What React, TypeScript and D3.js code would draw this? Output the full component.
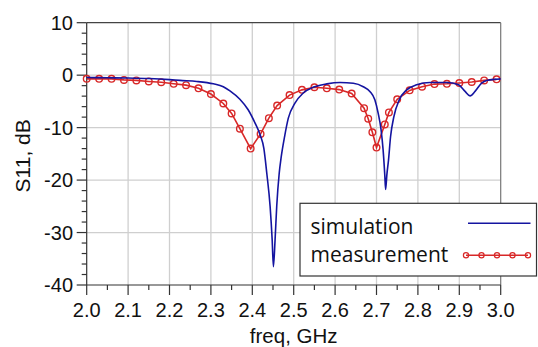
import React from "react";
import * as d3 from "d3";

const simFreq = [2.0, 2.05, 2.1, 2.15, 2.2, 2.225, 2.266, 2.306, 2.33, 2.346, 2.37, 2.39, 2.407, 2.419, 2.428, 2.435, 2.443, 2.448, 2.451, 2.455, 2.459, 2.465, 2.47, 2.478, 2.487, 2.503, 2.523, 2.547, 2.58, 2.612, 2.644, 2.668, 2.684, 2.696, 2.704, 2.711, 2.716, 2.72, 2.722, 2.725, 2.729, 2.734, 2.742, 2.755, 2.773, 2.797, 2.829, 2.87, 2.898, 2.914, 2.926, 2.938, 2.954, 2.966, 2.99, 3.0];
const simDb = [-0.45, -0.5, -0.55, -0.65, -0.85, -1.0, -1.2, -1.65, -2.2, -3.0, -4.6, -6.6, -9.2, -11.4, -14.0, -18.7, -25, -31.4, -36.5, -31.4, -25, -18.7, -15.5, -11.7, -8.2, -5.35, -3.4, -2.3, -1.66, -1.4, -1.55, -2.2, -3.1, -4.7, -7.25, -10.4, -14.3, -19, -21.8, -19, -16.2, -11.7, -7.9, -4.7, -2.8, -1.85, -1.4, -1.4, -1.85, -3.1, -3.95, -3.1, -1.5, -1.0, -0.77, -0.7];

const measFreq = [2.0, 2.03, 2.06, 2.09, 2.12, 2.15, 2.18, 2.21, 2.24, 2.27, 2.3, 2.33, 2.35, 2.37, 2.396, 2.42, 2.44, 2.46, 2.49, 2.52, 2.55, 2.58, 2.61, 2.64, 2.67, 2.68, 2.69, 2.7, 2.72, 2.73, 2.75, 2.78, 2.81, 2.84, 2.87, 2.9, 2.93, 2.96, 2.99];
const measDb = [-0.7, -0.7, -0.7, -0.9, -1.0, -1.2, -1.35, -1.65, -1.9, -2.5, -3.6, -5.4, -7.3, -10.2, -14.0, -11.2, -8.2, -5.8, -3.8, -2.8, -2.3, -2.5, -2.75, -3.5, -6.3, -8.3, -10.9, -13.8, -9.4, -7.1, -4.6, -2.9, -2.2, -1.7, -1.65, -1.5, -1.3, -1.0, -0.8];

const xTicks = [2.0, 2.1, 2.2, 2.3, 2.4, 2.5, 2.6, 2.7, 2.8, 2.9, 3.0];
const xMinor = [2.05, 2.15, 2.25, 2.35, 2.45, 2.55, 2.65, 2.75, 2.85, 2.95];
const yTicks = [10, 0, -10, -20, -30, -40];
const yMinor = [8, 6, 4, 2, -2, -4, -6, -8, -12, -14, -16, -18, -22, -24, -26, -28, -32, -34, -36, -38];

const legendLabels = ["simulation", "measurement"];

const W = 538, H = 347;
const L = 86.7, R = 500.7, T = 22.7, B = 285;
const BLUE = "#1414a0";
const RED = "#d82828";

export default function App() {
  const x = d3.scaleLinear().domain([2.0, 3.0]).range([L, R]);
  const y = d3.scaleLinear().domain([-40, 10]).range([B, T]);

  const simLine = d3.line<number>()
    .x((_, i) => x(simFreq[i]))
    .y((d) => y(d))
    .curve(d3.curveMonotoneX)(simDb) || "";
  const measLine = d3.line<number>()
    .x((_, i) => x(measFreq[i]))
    .y((d) => y(d))(measDb) || "";

  const lx = d3.scaleLinear().domain([0, 4]).range([466, 528]);
  const legPts = [0, 1, 2, 3, 4];

  const tickFont = "'Liberation Sans', Arial, sans-serif";
  return (
    <svg width={W} height={H} style={{ position: "absolute", left: 0, top: 0, background: "#fff" }}>
      <rect x={0} y={0} width={W} height={H} fill="#fff" />
      {/* grid */}
      {xTicks.slice(1, -1).map((t) => (
        <line key={"gx" + t} x1={x(t)} x2={x(t)} y1={T} y2={B} stroke="#cfcfcf" strokeWidth={1.3} />
      ))}
      {yTicks.slice(1, -1).map((t) => (
        <line key={"gy" + t} x1={L} x2={R} y1={y(t)} y2={y(t)} stroke="#cfcfcf" strokeWidth={1.3} />
      ))}
      {/* frame */}
      <line x1={L} x2={R} y1={T} y2={T} stroke="#444" strokeWidth={1.2} />
      <line x1={R} x2={R} y1={T} y2={B} stroke="#777" strokeWidth={1.2} />
      {/* axes */}
      <line x1={L} x2={R} y1={B} y2={B} stroke="#333" strokeWidth={1.2} />
      <line x1={L} x2={L} y1={T} y2={B} stroke="#333" strokeWidth={1.2} />
      {xTicks.map((t) => (
        <line key={"xt" + t} x1={x(t)} x2={x(t)} y1={B} y2={B + 10} stroke="#333" strokeWidth={1.2} />
      ))}
      {xMinor.map((t) => (
        <line key={"xm" + t} x1={x(t)} x2={x(t)} y1={B} y2={B + 5} stroke="#333" strokeWidth={1.2} />
      ))}
      {yTicks.map((t) => (
        <line key={"yt" + t} x1={L - 10} x2={L} y1={y(t)} y2={y(t)} stroke="#333" strokeWidth={1.2} />
      ))}
      {yMinor.map((t) => (
        <line key={"ym" + t} x1={L - 5} x2={L} y1={y(t)} y2={y(t)} stroke="#333" strokeWidth={1.2} />
      ))}
      {xTicks.map((t) => (
        <text key={"xl" + t} x={x(t)} y={316.5} textAnchor="middle" fontFamily={tickFont} fontSize={20} fill="#111">
          {t.toFixed(1)}
        </text>
      ))}
      {yTicks.map((t) => (
        <text key={"yl" + t} x={73} y={y(t)} dy="0.36em" textAnchor="end" fontFamily={tickFont} fontSize={20} fill="#111">
          {t}
        </text>
      ))}
      <text x={(L + R) / 2} y={342.5} textAnchor="middle" fontFamily={tickFont} fontSize={20.5} fill="#111">
        freq, GHz
      </text>
      <text transform={`translate(30,${(T + B) / 2 + 2}) rotate(-90)`} textAnchor="middle" fontFamily={tickFont} fontSize={21} fill="#111">
        S11, dB
      </text>
      {/* data */}
      <path d={measLine} fill="none" stroke={RED} strokeWidth={1.6} />
      {measDb.map((d, i) => (
        <circle key={"mc" + i} cx={x(measFreq[i])} cy={y(d)} r={3.3} fill="none" stroke={RED} strokeWidth={1.4} />
      ))}
      <path d={simLine} fill="none" stroke={BLUE} strokeWidth={1.6} />
      {/* legend */}
      <rect x={300} y={203.3} width={236.5} height={72.7} fill="#fff" stroke="#333" strokeWidth={1.2} />
      <text x={310.5} y={234} fontFamily="'Open Sans', 'Noto Sans', sans-serif" fontSize={21} fill="#111">
        {legendLabels[0]}
      </text>
      <text x={310.5} y={262} fontFamily="'Open Sans', 'Noto Sans', sans-serif" fontSize={21} fill="#111">
        {legendLabels[1]}
      </text>
      <line x1={468} x2={530.5} y1={223.3} y2={223.3} stroke={BLUE} strokeWidth={1.6} />
      <line x1={lx(0)} x2={lx(4)} y1={255.3} y2={255.3} stroke={RED} strokeWidth={1.5} />
      {legPts.map((p) => (
        <circle key={"lp" + p} cx={lx(p)} cy={255.3} r={2.6} fill="none" stroke={RED} strokeWidth={1.2} />
      ))}
    </svg>
  );
}
